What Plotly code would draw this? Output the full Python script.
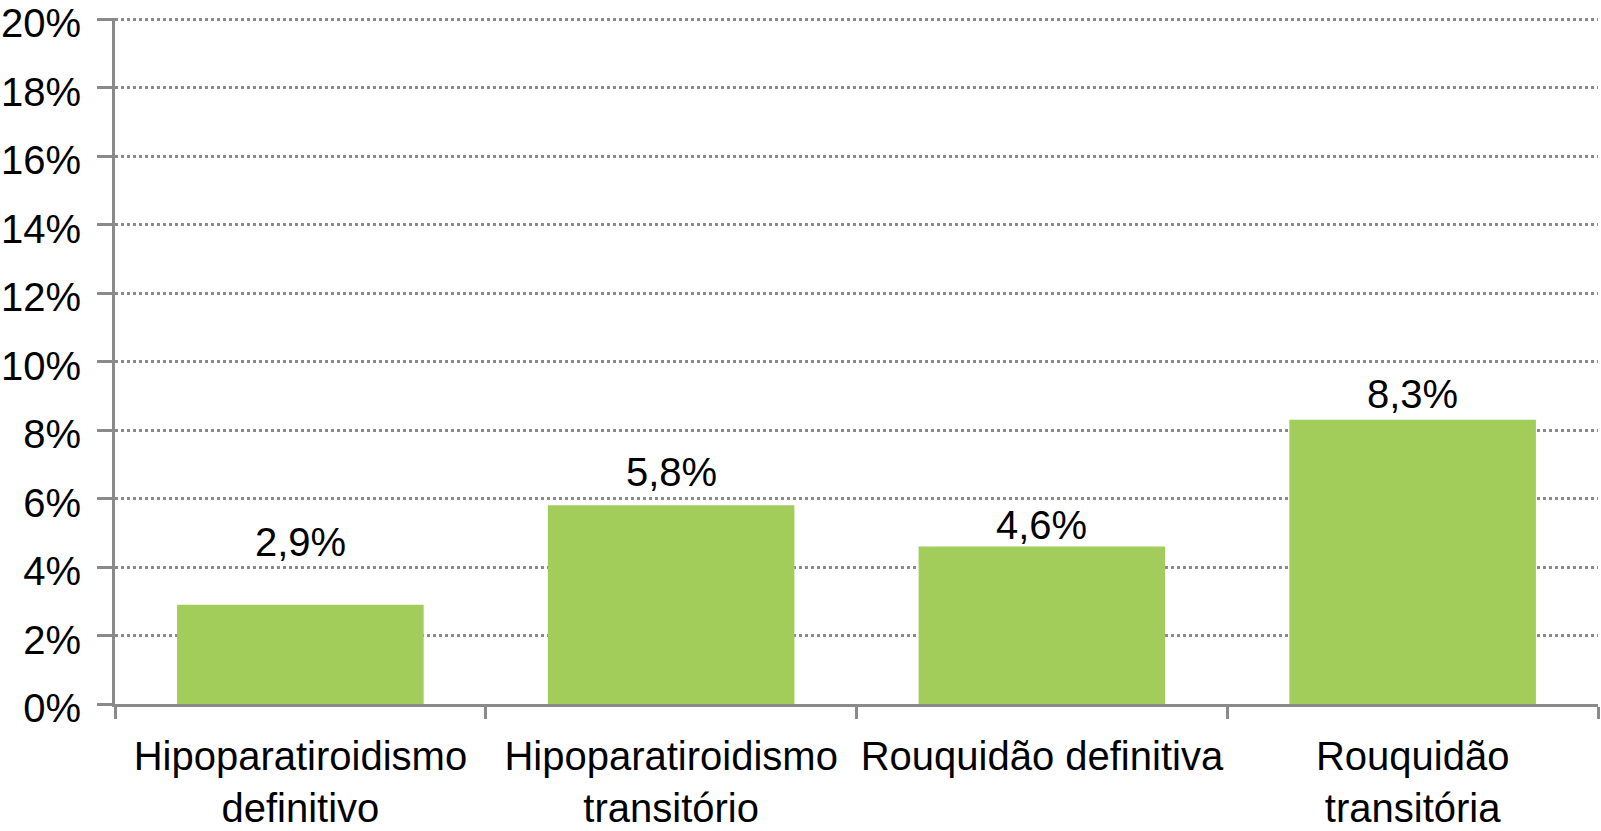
import plotly.graph_objects as go

categories = ["Hipoparatiroidismo<br>definitivo", "Hipoparatiroidismo<br>transitório",
              "Rouquidão definitiva", "Rouquidão<br>transitória"]
values = [2.9, 5.8, 4.6, 8.3]
labels = ["2,9%", "5,8%", "4,6%", "8,3%"]
label_shift = [39, 9, -3, 2]
y_ticks = list(range(0, 21, 2))
y_ticktext = [f"{v}%" for v in y_ticks]

FONT = "Liberation Sans, Arial, Helvetica, sans-serif"
GREY = "#8a8a8a"
FS = 40

fig = go.Figure(go.Bar(x=categories, y=values, marker=dict(color="#A2CD5A", line=dict(width=0)),
                       width=0.665, hoverinfo="skip"))

for c, v, t, s in zip(categories, values, labels, label_shift):
    fig.add_annotation(x=c, y=v, text=t, showarrow=False, yanchor="bottom", yshift=s,
                       font=dict(family=FONT, size=FS, color="black"))

fig.update_layout(
    width=1601, height=831,
    margin=dict(l=115, r=3, t=18, b=127, autoexpand=False),
    paper_bgcolor="white", plot_bgcolor="white",
    showlegend=False,
    font=dict(family=FONT, size=FS, color="black"),
)
fig.update_xaxes(showline=True, linecolor=GREY, linewidth=3, ticks="outside", tickson="boundaries",
                 ticklen=12, tickwidth=3, tickcolor=GREY, showgrid=False, ticklabelstandoff=15,
                 tickangle=0, automargin=False, ticklabeloverflow="allow",
                 tickfont=dict(family=FONT, size=FS, color="black"))
fig.update_yaxes(range=[0, 20.03], tickvals=y_ticks, ticktext=y_ticktext,
                 showline=True, linecolor=GREY, linewidth=3, ticks="outside", ticklen=15,
                 tickwidth=3, tickcolor=GREY, showgrid=True, gridcolor=GREY, gridwidth=3,
                 griddash="dot", zeroline=False, ticklabelstandoff=8, ticklabelshift=4,
                 automargin=False, ticklabeloverflow="allow",
                 tickfont=dict(family=FONT, size=FS, color="black"))

fig.write_html("out.html", config={"displayModeBar": False},
               post_script="document.body.style.margin='0';document.body.style.overflow='hidden';")
